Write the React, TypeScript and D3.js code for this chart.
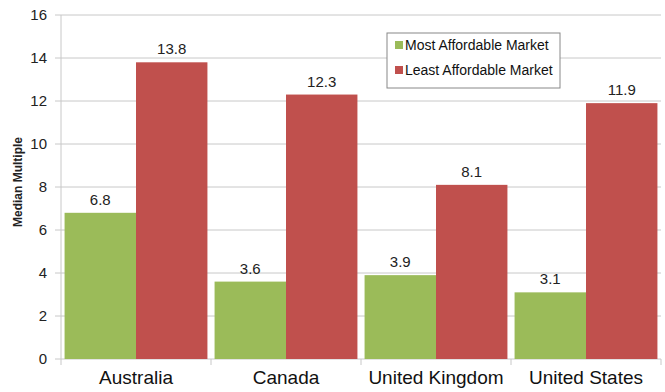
import React from "react";
import * as d3 from "d3";

const categories = ["Australia", "Canada", "United Kingdom", "United States"];
const seriesNames = ["Most Affordable Market", "Least Affordable Market"];
const mostAffordable = [6.8, 3.6, 3.9, 3.1];
const leastAffordable = [13.8, 12.3, 8.1, 11.9];
const yTicks = [0, 2, 4, 6, 8, 10, 12, 14, 16];
const colors = ["#9BBB59", "#C0504D"];

const W = 665;
const H = 392;
const left = 61;
const right = 661;
const top = 15;
const bottom = 359;

export default function App() {
  const x0 = d3.scaleBand<string>().domain(categories).range([left, right]).paddingInner(0).paddingOuter(0);
  const x1 = d3.scaleBand<string>().domain(seriesNames).range([0, x0.bandwidth()]).paddingInner(0).paddingOuter(0.05);
  const y = d3.scaleLinear().domain([0, 16]).range([bottom, top]);
  const series = [mostAffordable, leastAffordable];
  const font = "'Liberation Sans', Arial, sans-serif";
  const boundaries = [...categories.map((c) => x0(c)!), right];

  return (
    <svg width={W} height={H} style={{ position: "absolute", left: 0, top: 0, background: "#fff" }} fontFamily={font}>
      {yTicks.map((t) => (
        <g key={t}>
          <line x1={left - 6} x2={right} y1={y(t)} y2={y(t)} stroke="#c8c8c8" strokeWidth={1} />
          <text x={47} y={y(t)} dy="0.36em" textAnchor="end" fontSize={15} fill="#222">{t}</text>
        </g>
      ))}
      <line x1={left} x2={left} y1={top} y2={bottom} stroke="#c8c8c8" strokeWidth={1} />
      {boundaries.map((b, i) => (
        <line key={i} x1={b} x2={b} y1={bottom} y2={bottom + 6} stroke="#c8c8c8" strokeWidth={1} />
      ))}
      {categories.map((c, ci) => (
        <g key={c}>
          {series.map((s, si) => {
            const bx = x0(c)! + x1(seriesNames[si])!;
            const bw = x1.bandwidth();
            return (
              <g key={si}>
                <rect x={bx} y={y(s[ci])} width={bw} height={bottom - y(s[ci])} fill={colors[si]} />
                <text x={bx + bw / 2} y={y(s[ci]) - 8} textAnchor="middle" fontSize={15} fill="#222">{s[ci]}</text>
              </g>
            );
          })}
          <text x={x0(c)! + x0.bandwidth() / 2} y={384} textAnchor="middle" fontSize={19} fill="#111">{c}</text>
        </g>
      ))}
      <text transform={`translate(22, 182) rotate(-90)`} textAnchor="middle" fontSize={12} fontWeight="bold" fill="#222">Median Multiple</text>
      <g>
        <rect x={387} y={33} width={173} height={55} fill="#fff" stroke="#888" strokeWidth={1} />
        {seriesNames.map((n, i) => (
          <g key={n}>
            <rect x={395} y={41 + i * 25} width={8} height={8} fill={colors[i]} />
            <text x={405} y={45 + i * 25} dy="0.36em" fontSize={14} fill="#111">{n}</text>
          </g>
        ))}
      </g>
    </svg>
  );
}
